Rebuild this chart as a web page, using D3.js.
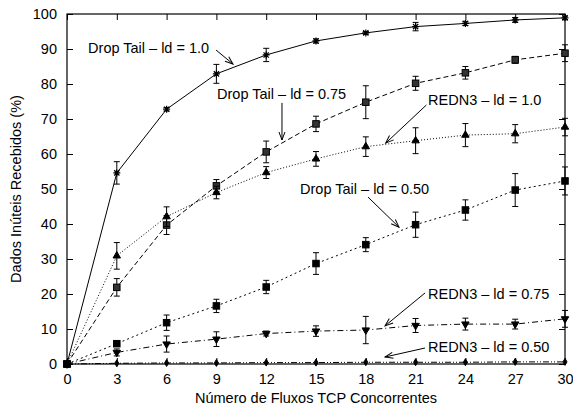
<!DOCTYPE html>
<html>
<head>
<meta charset="utf-8">
<script src="https://cdn.jsdelivr.net/npm/d3@7"></script>
<style>
  body { margin: 0; background: #fff; }
  text { font-family: "Liberation Sans", Arial, sans-serif; }
</style>
</head>
<body>
<script>
// Chart dimensions and margins.
const width = 573;
const height = 409;
const marginTop = 14;
const marginRight = 8;
const marginBottom = 45;
const marginLeft = 67;

// Data.
const flows = [0, 3, 6, 9, 12, 15, 18, 21, 24, 27, 30];
const xTicks = [0, 3, 6, 9, 12, 15, 18, 21, 24, 27, 30];
const yTicks = [0, 10, 20, 30, 40, 50, 60, 70, 80, 90, 100];

const dtLd10 = [0, 54.6, 72.8, 82.9, 88.3, 92.3, 94.6, 96.4, 97.3, 98.3, 98.9];
const dtLd10Err = [0, 3.2, 0.5, 2.7, 1.9, 0.6, 0.4, 1.2, 0.6, 0.7, 0.5];
const dtLd075 = [0, 21.9, 39.7, 50.9, 60.6, 68.6, 74.8, 80.2, 83.2, 86.9, 88.8];
const dtLd075Err = [0, 2.5, 2.7, 1.8, 3.1, 2.2, 4.7, 2.0, 1.8, 1.0, 2.4];
const redLd10 = [0, 30.9, 42.1, 49.0, 54.7, 58.6, 62.1, 63.8, 65.4, 65.8, 67.7];
const redLd10Err = [0, 3.8, 2.8, 1.8, 1.7, 2.1, 2.8, 3.7, 3.3, 2.6, 2.5];
const dtLd050 = [0, 5.8, 11.8, 16.6, 22.0, 28.7, 34.1, 39.8, 44.0, 49.7, 52.3];
const dtLd050Err = [0, 0.5, 2.2, 1.9, 1.9, 3.1, 2.0, 3.6, 2.9, 4.7, 4.0];
const redLd075 = [0, 3.3, 5.7, 7.1, 8.7, 9.4, 9.7, 11.0, 11.4, 11.4, 12.9];
const redLd075Err = [0, 1.0, 2.3, 2.1, 0.7, 1.5, 3.9, 2.0, 1.7, 1.4, 2.4];
const redLd050 = [0, 0.2, 0.3, 0.3, 0.4, 0.4, 0.5, 0.5, 0.5, 0.6, 0.6];
const redLd050Err = [0, 0.1, 0.1, 0.1, 0.1, 0.1, 0.1, 0.1, 0.1, 0.1, 0.1];

// Labels with arrows, in data units.
const labels = [
  { text: "Drop Tail \u2013 ld = 1.0", x: 1.27, y: 90.3, from: [8.98, 89.7], to: [10.0, 85.7] },
  { text: "Drop Tail \u2013 ld = 0.75", x: 9.04, y: 77.1, from: [12.95, 74.6], to: [12.95, 64.0] },
  { text: "REDN3 \u2013 ld = 1.0", x: 21.75, y: 75.4, from: [21.65, 74.0], to: [19.2, 63.1] },
  { text: "Drop Tail \u2013 ld = 0.50", x: 14.04, y: 50.0, from: [18.13, 47.7], to: [20.0, 39.1] },
  { text: "REDN3 \u2013 ld = 0.75", x: 21.75, y: 20.0, from: [21.57, 20.3], to: [19.16, 10.9] },
  { text: "REDN3 \u2013 ld = 0.50", x: 21.75, y: 4.86, from: [21.57, 4.57], to: [19.16, 2.0] },
];

const series = [
  { values: dtLd10, err: dtLd10Err, dash: null, marker: "star" },
  { values: dtLd075, err: dtLd075Err, dash: "5,3", marker: "squareGray" },
  { values: redLd10, err: redLd10Err, dash: "1,2", marker: "triangle" },
  { values: dtLd050, err: dtLd050Err, dash: "2,3", marker: "square" },
  { values: redLd075, err: redLd075Err, dash: "6,3,1,3", marker: "triangleDown" },
  { values: redLd050, err: redLd050Err, dash: "6,2,1,2,1,2", marker: "diamond" },
];

const x = d3.scaleLinear([0, 30], [marginLeft, width - marginRight]);
const y = d3.scaleLinear([0, 100], [height - marginBottom, marginTop]);

const svg = d3
  .select("body")
  .append("svg")
  .attr("width", width)
  .attr("height", height)
  .attr("viewBox", [0, 0, width, height]);

svg
  .append("defs")
  .append("marker")
  .attr("id", "head")
  .attr("viewBox", "-10 -5 12 10")
  .attr("markerWidth", 12)
  .attr("markerHeight", 10)
  .attr("markerUnits", "userSpaceOnUse")
  .attr("orient", "auto")
  .append("path")
  .attr("d", "M-8,-3L0,0L-8,3")
  .attr("fill", "none")
  .attr("stroke", "#000")
  .attr("stroke-width", 1);

// Ticks on all four sides, pointing inward.
const tickLen = 6;
const axes = svg.append("g").attr("font-size", 14.5);

axes
  .append("g")
  .attr("transform", `translate(0,${height - marginBottom})`)
  .call(d3.axisBottom(x).tickValues(xTicks).tickSize(-tickLen).tickPadding(10))
  .call((g) => g.select(".domain").remove())
  .call((g) => g.selectAll("text").attr("font-size", 14.5).attr("font-family", "Liberation Sans, Arial, sans-serif"));

axes
  .append("g")
  .attr("transform", `translate(0,${marginTop})`)
  .call(d3.axisTop(x).tickValues(xTicks).tickSize(-tickLen).tickFormat(""))
  .call((g) => g.select(".domain").remove());

axes
  .append("g")
  .attr("transform", `translate(${marginLeft},0)`)
  .call(d3.axisLeft(y).tickValues(yTicks).tickSize(-tickLen).tickPadding(10))
  .call((g) => g.select(".domain").remove())
  .call((g) => g.selectAll("text").attr("font-size", 14.5).attr("font-family", "Liberation Sans, Arial, sans-serif"));

axes
  .append("g")
  .attr("transform", `translate(${width - marginRight},0)`)
  .call(d3.axisRight(y).tickValues(yTicks).tickSize(-tickLen).tickFormat(""))
  .call((g) => g.select(".domain").remove());

// Frame.
svg
  .append("rect")
  .attr("x", marginLeft)
  .attr("y", marginTop)
  .attr("width", width - marginLeft - marginRight)
  .attr("height", height - marginTop - marginBottom)
  .attr("fill", "none")
  .attr("stroke", "#000")
  .attr("stroke-width", 1.2);

// Axis titles.
svg
  .append("text")
  .attr("x", (marginLeft + width - marginRight) / 2)
  .attr("y", height - 6)
  .attr("text-anchor", "middle")
  .attr("font-size", 14.5)
  .text("Número de Fluxos TCP Concorrentes");

svg
  .append("text")
  .attr("transform", `translate(21,${(marginTop + height - marginBottom) / 2}) rotate(-90)`)
  .attr("text-anchor", "middle")
  .attr("font-size", 14.5)
  .text("Dados Inúteis Recebidos (%)");

const line = d3
  .line()
  .x((d, i) => x(flows[i]))
  .y((d) => y(d));

function drawMarker(g, type, cx, cy) {
  if (type === "star") {
    const r = 3.5;
    const k = r * 0.75;
    g.append("path")
      .attr("d", `M${cx - r},${cy}H${cx + r}M${cx},${cy - r}V${cy + r}M${cx - k},${cy - k}L${cx + k},${cy + k}M${cx - k},${cy + k}L${cx + k},${cy - k}`)
      .attr("stroke", "#000")
      .attr("stroke-width", 1.2);
  } else if (type === "square" || type === "squareGray") {
    const s = 6.5;
    g.append("rect")
      .attr("x", cx - s / 2)
      .attr("y", cy - s / 2)
      .attr("width", s)
      .attr("height", s)
      .attr("fill", type === "square" ? "#000" : "#333");
  } else if (type === "triangle" || type === "triangleDown") {
    const sym = d3.symbol(d3.symbolTriangle, 24)();
    g.append("path")
      .attr("d", sym)
      .attr("transform", `translate(${cx},${cy})${type === "triangleDown" ? " rotate(180)" : ""}`)
      .attr("fill", "#000");
  } else if (type === "diamond") {
    g.append("path")
      .attr("d", d3.symbol(d3.symbolDiamond, 14)())
      .attr("transform", `translate(${cx},${cy})`)
      .attr("fill", "#000");
  }
}

const plot = svg.append("g");

for (const s of series) {
  plot
    .append("path")
    .attr("fill", "none")
    .attr("stroke", "#000")
    .attr("stroke-width", 1)
    .attr("stroke-dasharray", s.dash)
    .attr("d", line(s.values));

  const g = plot.append("g").attr("stroke", "#000").attr("stroke-width", 1);
  s.values.forEach((v, i) => {
    const cx = x(flows[i]);
    const e = s.err[i];
    if (e > 0.2) {
      const y0 = y(v - e);
      const y1 = y(v + e);
      g.append("path")
        .attr("fill", "none")
        .attr("d", `M${cx},${y0}V${y1}M${cx - 3},${y0}H${cx + 3}M${cx - 3},${y1}H${cx + 3}`);
    }
    drawMarker(g, s.marker, cx, y(v));
  });
}

// Labels and arrows.
const ann = svg.append("g");
for (const l of labels) {
  ann
    .append("text")
    .attr("x", x(l.x))
    .attr("y", y(l.y))
    .attr("dy", "0.35em")
    .attr("font-size", 14.5)
    .text(l.text);
  ann
    .append("line")
    .attr("x1", x(l.from[0]))
    .attr("y1", y(l.from[1]))
    .attr("x2", x(l.to[0]))
    .attr("y2", y(l.to[1]))
    .attr("stroke", "#000")
    .attr("stroke-width", 1)
    .attr("marker-end", "url(#head)");
}
</script>
</body>
</html>
